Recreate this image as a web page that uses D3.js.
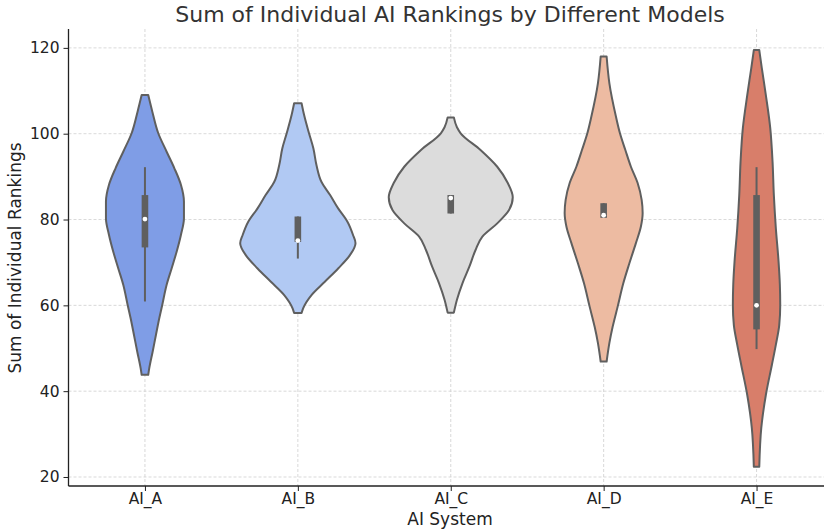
<!DOCTYPE html>
<html>
<head>
<meta charset="utf-8">
<script src="https://cdn.jsdelivr.net/npm/d3@7/dist/d3.min.js"></script>
<style>
  body { margin: 0; background: #fff; }
  svg { display: block; font-family: "DejaVu Sans", sans-serif; }
</style>
</head>
<body>
<svg id="chart" width="824" height="530"></svg>
<script>
// ---- data ----
const categories = ["AI_A", "AI_B", "AI_C", "AI_D", "AI_E"];
const colors = ["#7f9de6", "#b1c9f3", "#dcdcdc", "#edbba2", "#d87e6a"];
const yTicks = [20, 40, 60, 80, 100, 120];

// density profiles: [value, relative density]
const densityA = [[109.0,0.053],[105.2,0.118],[100.1,0.215],[95.8,0.35],[92.0,0.473],[88.1,0.58],[84.2,0.629],[80.3,0.629],[76.4,0.58],[72.5,0.511],[68.6,0.43],[64.8,0.35],[60.1,0.279],[57.0,0.231],[53.1,0.177],[49.2,0.124],[45.3,0.069],[43.8,0.053]];
const densityB = [[107.1,0.06],[104.4,0.1],[100.1,0.18],[96.6,0.25],[92.7,0.3],[88.8,0.38],[85.7,0.52],[82.6,0.65],[79.5,0.8],[76.4,0.89],[74.5,0.93],[71.7,0.84],[68.6,0.65],[65.5,0.435],[62.4,0.22],[59.3,0.085],[58.2,0.06]];
const densityC = [[103.8,0.05],[101.5,0.1],[100.1,0.16],[96.2,0.48],[92.3,0.75],[88.5,0.92],[85.2,1.0],[82.2,0.94],[79.1,0.75],[76.0,0.51],[72.9,0.4],[69.0,0.3],[65.2,0.19],[61.3,0.1],[58.3,0.05]];
const densityD = [[118.0,0.048],[111.8,0.092],[104.0,0.198],[100.1,0.263],[96.2,0.35],[92.3,0.44],[88.5,0.548],[84.6,0.613],[81.5,0.629],[78.3,0.6],[74.5,0.52],[69.8,0.415],[65.2,0.318],[59.7,0.226],[55.0,0.145],[51.2,0.092],[46.9,0.048]];
const densityE = [[119.5,0.044],[115.3,0.085],[109.0,0.15],[101.3,0.221],[93.5,0.258],[85.7,0.279],[78.0,0.311],[70.2,0.355],[64.8,0.376],[60.1,0.382],[55.4,0.366],[50.8,0.311],[46.1,0.247],[39.1,0.15],[31.4,0.076],[22.4,0.044]];
const densities = [densityA, densityB, densityC, densityD, densityE];

// box stats
const q1 = [73.5, 74.8, 81.4, 80.4, 54.4];
const q3 = [85.7, 80.7, 85.7, 83.8, 85.7];
const whiskerLow = [60.9, 70.9, 81.4, 80.4, 49.8];
const whiskerHigh = [92.2, 80.7, 85.7, 83.8, 92.2];
const medians = [80.1, 75.1, 85.0, 81.0, 60.0];

// ---- layout ----
const svg = d3.select("#chart");
const mLeft = 68.5, mRight = 833, mTop = 29, mBottom = 486;

const x = d3.scalePoint().domain(categories).range([mLeft, mRight]).padding(0.5);
const y = d3.scaleLinear().domain([17.9, 124.4]).range([mBottom, mTop]);
const w = d3.scaleLinear().domain([0, 1]).range([0, 62]);

// grid
const grid = svg.append("g");
grid.selectAll("line.h").data(yTicks).join("line")
  .attr("x1", mLeft).attr("x2", 824)
  .attr("y1", d => y(d)).attr("y2", d => y(d))
  .attr("stroke", "#cfcfcf").attr("stroke-width", 0.8).attr("stroke-dasharray", "3,2");
grid.selectAll("line.v").data(categories).join("line")
  .attr("x1", d => x(d)).attr("x2", d => x(d))
  .attr("y1", mTop).attr("y2", mBottom)
  .attr("stroke", "#cfcfcf").attr("stroke-width", 0.8).attr("stroke-dasharray", "3,2");

// violins
const g = svg.append("g");
categories.forEach((c, i) => {
  const cx = x(c);
  const area = d3.area()
    .y(d => y(d[0]))
    .x0(d => cx - w(d[1]))
    .x1(d => cx + w(d[1]))
    .curve(d3.curveMonotoneY);
  g.append("path")
    .datum(densities[i])
    .attr("d", area)
    .attr("fill", colors[i])
    .attr("stroke", "#5f5f5f")
    .attr("stroke-width", 2)
    .attr("stroke-linejoin", "round");
  g.append("line")
    .attr("x1", cx).attr("x2", cx)
    .attr("y1", y(whiskerLow[i])).attr("y2", y(whiskerHigh[i]))
    .attr("stroke", "#5f5f5f").attr("stroke-width", 2);
  g.append("rect")
    .attr("x", cx - 3.3).attr("width", 6.6)
    .attr("y", y(q3[i])).attr("height", y(q1[i]) - y(q3[i]))
    .attr("fill", "#5f5f5f");
  g.append("circle")
    .attr("cx", cx).attr("cy", y(medians[i])).attr("r", 2.4)
    .attr("fill", "#ffffff");
});

// axes
const yAxis = d3.axisLeft(y).tickValues(yTicks).tickSize(5).tickPadding(4);
const ya = svg.append("g").attr("transform", `translate(${mLeft},0)`).call(yAxis);
ya.select(".domain").remove();
const xAxis = d3.axisBottom(x).tickSize(5).tickPadding(2);
const xa = svg.append("g").attr("transform", `translate(0,${mBottom})`).call(xAxis);
xa.select(".domain").remove();
[ya, xa].forEach(a => {
  a.selectAll("text").attr("font-size", 15.5).attr("fill", "#222").attr("font-family", "DejaVu Sans");
  a.selectAll("line").attr("stroke", "#222").attr("stroke-width", 1);
});

// spines
svg.append("line").attr("x1", mLeft).attr("x2", mLeft).attr("y1", mTop).attr("y2", mBottom)
  .attr("stroke", "#222").attr("stroke-width", 1.3);
svg.append("line").attr("x1", mLeft).attr("x2", 824).attr("y1", mBottom).attr("y2", mBottom)
  .attr("stroke", "#222").attr("stroke-width", 1.3);

// labels
svg.append("text").attr("x", 450).attr("y", 22).attr("text-anchor", "middle")
  .attr("font-size", 22).attr("fill", "#333").text("Sum of Individual AI Rankings by Different Models");
svg.append("text").attr("x", 450).attr("y", 525).attr("text-anchor", "middle")
  .attr("font-size", 17).attr("fill", "#222").text("AI System");
svg.append("text").attr("transform", "translate(21,258) rotate(-90)").attr("text-anchor", "middle")
  .attr("font-size", 17).attr("fill", "#222").text("Sum of Individual Rankings");
</script>
</body>
</html>
